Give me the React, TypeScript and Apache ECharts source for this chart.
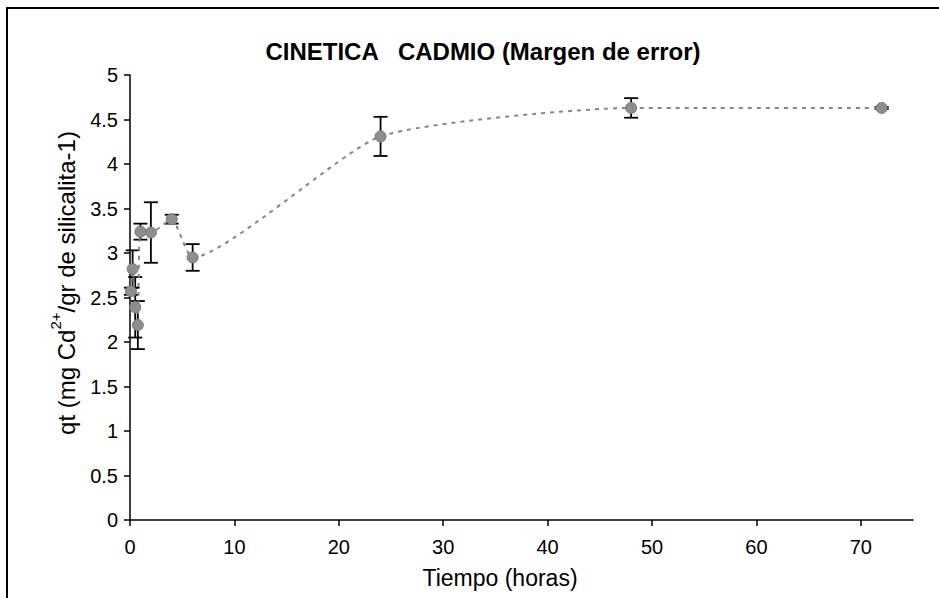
import React, { useEffect, useRef } from "react";
import * as echarts from "echarts";

const times = [0.083, 0.25, 0.5, 0.75, 1, 2, 4, 6, 24, 48, 72];
const qt = [2.57, 2.82, 2.39, 2.19, 3.24, 3.23, 3.38, 2.95, 4.31, 4.63, 4.63];
const errs = [0.04, 0.21, 0.34, 0.27, 0.09, 0.34, 0.05, 0.15, 0.22, 0.11, 0.01];
const xTicks = [0, 10, 20, 30, 40, 50, 60, 70];
const titleText = "CINETICA   CADMIO (Margen de error)";
const xName = "Tiempo (horas)";

export default function App() {
  const ref = useRef<HTMLDivElement>(null);
  useEffect(() => {
    if (!ref.current) return;
    const chart = echarts.init(ref.current, null, { renderer: "svg" });
    const font = "Liberation Sans, Arial, sans-serif";
    chart.setOption({
      animation: false,
      backgroundColor: "#fff",
      textStyle: { fontFamily: font },
      title: {
        text: titleText,
        left: 478,
        top: 34,
        textAlign: "center",
        textStyle: { fontSize: 24, fontWeight: "bold", color: "#000", fontFamily: font },
      },
      grid: { left: 130, top: 75, right: 26, bottom: 78, containLabel: false, outerBoundsMode: "none" },
      xAxis: {
        type: "value",
        min: 0,
        max: 75,
        interval: 10,
        splitLine: { show: false },
        axisLine: { show: true, lineStyle: { color: "#000", width: 1.5 } },
        axisTick: { show: true, length: 6, customValues: xTicks, lineStyle: { color: "#000", width: 1.5 } },
        axisLabel: { customValues: xTicks, fontSize: 20, color: "#000", margin: 17, fontFamily: font },
      },
      yAxis: {
        type: "value",
        min: 0,
        max: 5,
        interval: 0.5,
        splitLine: { show: false },
        axisLine: { show: true, lineStyle: { color: "#000", width: 1.5 } },
        axisTick: { show: true, length: 6, lineStyle: { color: "#000", width: 1.5 } },
        axisLabel: { fontSize: 20, color: "#000", margin: 12, fontFamily: font },
      },
      graphic: [
        {
          type: "rect",
          shape: { x: 7, y: 8, width: 960, height: 620 },
          style: { fill: "none", stroke: "#000", lineWidth: 2 },
          silent: true,
        },
        {
          type: "text",
          x: 500,
          y: 578,
          style: {
            text: xName,
            fontSize: 23,
            fill: "#000",
            fontFamily: font,
            align: "center",
            verticalAlign: "middle",
          },
        },
        {
          type: "text",
          x: 63,
          y: 283,
          rotation: Math.PI / 2,
          style: {
            text: "{a|qt (mg Cd}{s|2+}{a|/gr de silicalita-1)}",
            align: "center",
            verticalAlign: "middle",
            fill: "#000",
            rich: {
              a: { fontSize: 24, fontFamily: font, fill: "#000", color: "#000", lineHeight: 30, verticalAlign: "bottom" },
              s: { fontSize: 15, fontFamily: font, fill: "#000", color: "#000", lineHeight: 30, verticalAlign: "top" },
            },
          },
        },
      ],
      series: [
        {
          type: "custom",
          z: 1,
          data: times.map((t, i) => [t, qt[i], errs[i]]),
          encode: { x: 0, y: 1 },
          renderItem: (params: any, api: any) => {
            const x = api.value(0);
            const y = api.value(1);
            const e = api.value(2);
            const top = api.coord([x, y + e]);
            const bot = api.coord([x, y - e]);
            const hw = 7;
            const st = { stroke: "#000", lineWidth: 1.8 };
            return {
              type: "group",
              children: [
                { type: "line", shape: { x1: top[0], y1: top[1], x2: bot[0], y2: bot[1] }, style: st },
                { type: "line", shape: { x1: top[0] - hw, y1: top[1], x2: top[0] + hw, y2: top[1] }, style: st },
                { type: "line", shape: { x1: bot[0] - hw, y1: bot[1], x2: bot[0] + hw, y2: bot[1] }, style: st },
              ],
            };
          },
        },
        {
          type: "line",
          z: 3,
          data: times.map((t, i) => [t, qt[i]]),
          smooth: 0.18,
          symbol: "circle",
          symbolSize: 11,
          showAllSymbol: true,
          lineStyle: { color: "#858585", width: 2, type: [4, 5] },
          itemStyle: { color: "#8e8e8e", borderColor: "#7a7a7a", borderWidth: 1 },
        },
      ],
    });
    return () => chart.dispose();
  }, []);
  return (
    <div
      ref={ref}
      style={{ position: "absolute", left: 0, top: 0, width: 939, height: 598 }}
    />
  );
}
